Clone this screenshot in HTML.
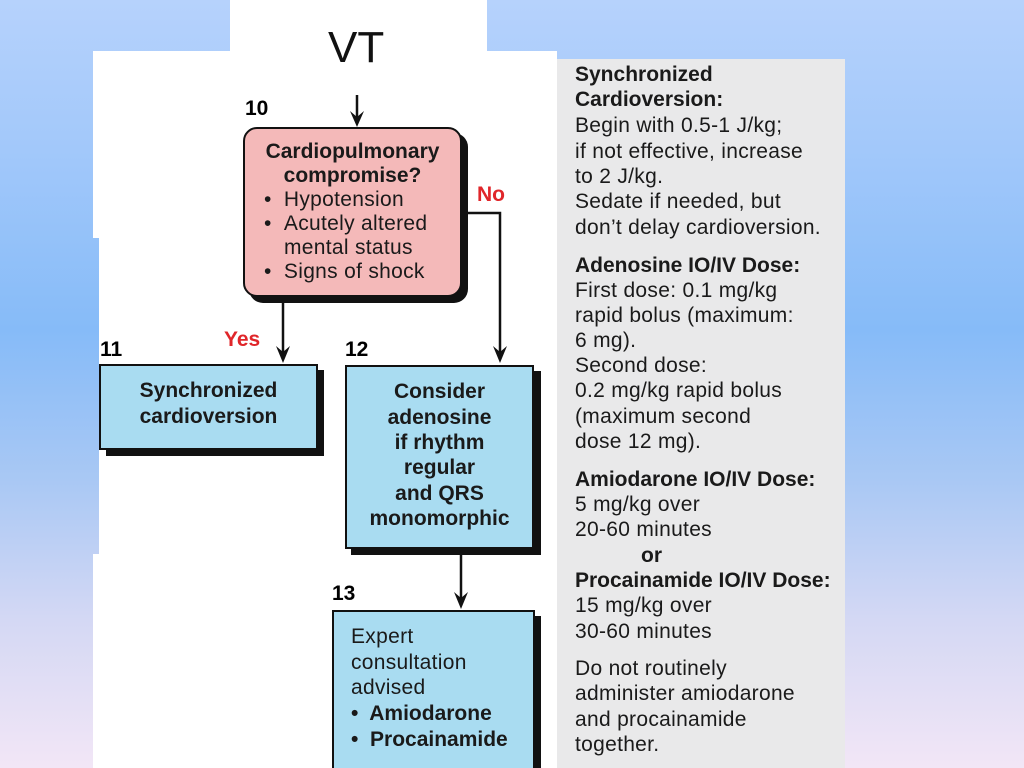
<!DOCTYPE html>
<html style="overflow:hidden;width:1024px;height:768px"><head><meta charset="utf-8"><style>
*{margin:0;padding:0;box-sizing:border-box}
html,body{overflow:hidden}
body{width:1024px;height:768px;position:relative;font-family:"Liberation Sans",Arial,sans-serif;
background:linear-gradient(to bottom,#b6d2fc 0px,#a2c8fa 150px,#86bbf8 330px,#a9c8f4 480px,#d4d8f4 620px,#f2e6f6 768px);}
.a{position:absolute;white-space:nowrap;line-height:22px}
.r{font-size:21px;color:#1a1a1a;letter-spacing:0.3px}
.b{font-weight:bold;letter-spacing:0}
.box{position:absolute;border:2.5px solid #111;}
.sh{position:absolute;background:#111}
.c{text-align:center}
.n{font-size:21px;font-weight:bold}
</style></head><body>
<div style="position:absolute;left:230px;top:0;width:257px;height:60px;background:#fff"></div>
<div style="position:absolute;left:93px;top:51px;width:464px;height:187px;background:#fff"></div>
<div style="position:absolute;left:99px;top:238px;width:458px;height:316px;background:#fff"></div>
<div style="position:absolute;left:93px;top:554px;width:464px;height:214px;background:#fff"></div>
<div style="position:absolute;left:557px;top:59px;width:288px;height:709px;background:#e9e9ea"></div>
<div class="a" style="left:328px;top:24px;font-size:44px;line-height:48px;color:#111">VT</div>

<svg style="position:absolute;left:0;top:0" width="1024" height="768">
<g stroke="#111" stroke-width="2.5" fill="none">
<line x1="357" y1="95" x2="357" y2="120"/>
<line x1="283" y1="298" x2="283" y2="355"/>
<polyline points="462,213 500,213 500,355"/>
<line x1="461" y1="550" x2="461" y2="600"/>
</g>
<g fill="#111">
<polygon points="350,111 357,127 364,111 357,117"/>
<polygon points="276,346 283,363 290,346 283,352"/>
<polygon points="493,346 500,363 507,346 500,352"/>
<polygon points="454,592 461,609 468,592 461,598"/>
</g>
</svg>

<div class="a n" style="left:245px;top:98px">10</div>
<div style="position:absolute;left:249px;top:133px;width:219px;height:170px;background:#111;border-radius:14px"></div>
<div class="box" style="left:243px;top:127px;width:219px;height:170px;background:#f4b9b9;border-radius:14px"></div>
<div class="a r b c" style="left:243px;top:141px;width:219px">Cardiopulmonary</div>
<div class="a r b c" style="left:243px;top:165px;width:219px">compromise?</div>
<div class="a r" style="left:264px;top:189px">•&nbsp;&nbsp;Hypotension</div>
<div class="a r" style="left:264px;top:213px">•&nbsp;&nbsp;Acutely altered</div>
<div class="a r" style="left:284px;top:237px">mental status</div>
<div class="a r" style="left:264px;top:261px">•&nbsp;&nbsp;Signs of shock</div>
<div class="a n" style="left:477px;top:184px;color:#e0262a">No</div>
<div class="a n" style="left:224px;top:329px;color:#e0262a">Yes</div>

<div class="a n" style="left:100px;top:339px">11</div>
<div class="sh" style="left:106px;top:370px;width:218px;height:86px"></div>
<div class="box" style="left:99px;top:364px;width:219px;height:86px;background:#a9dcf1"></div>
<div class="a r b c" style="left:99px;top:380px;width:219px">Synchronized</div>
<div class="a r b c" style="left:99px;top:406px;width:219px">cardioversion</div>

<div class="a n" style="left:345px;top:339px">12</div>
<div class="sh" style="left:351px;top:371px;width:190px;height:184px"></div>
<div class="box" style="left:345px;top:365px;width:189px;height:184px;background:#a9dcf1"></div>
<div class="a r b c" style="left:345px;top:381px;width:189px">Consider</div>
<div class="a r b c" style="left:345px;top:407px;width:189px">adenosine</div>
<div class="a r b c" style="left:345px;top:432px;width:189px">if rhythm</div>
<div class="a r b c" style="left:345px;top:457px;width:189px">regular</div>
<div class="a r b c" style="left:345px;top:483px;width:189px">and QRS</div>
<div class="a r b c" style="left:345px;top:508px;width:189px">monomorphic</div>

<div class="a n" style="left:332px;top:583px">13</div>
<div class="sh" style="left:338px;top:616px;width:203px;height:152px"></div>
<div class="box" style="left:332px;top:610px;width:203px;height:162px;background:#a9dcf1"></div>
<div class="a r" style="left:351px;top:626px">Expert</div>
<div class="a r" style="left:351px;top:652px">consultation</div>
<div class="a r" style="left:351px;top:677px">advised</div>
<div class="a r b" style="left:351px;top:703px">•&nbsp; Amiodarone</div>
<div class="a r b" style="left:351px;top:729px">•&nbsp; Procainamide</div>

<div class="a r b" style="left:575px;top:64px">Synchronized</div>
<div class="a r b" style="left:575px;top:89px">Cardioversion:</div>
<div class="a r" style="left:575px;top:115px">Begin with 0.5-1 J/kg;</div>
<div class="a r" style="left:575px;top:141px">if not effective, increase</div>
<div class="a r" style="left:575px;top:166px">to 2 J/kg.</div>
<div class="a r" style="left:575px;top:191px">Sedate if needed, but</div>
<div class="a r" style="left:575px;top:217px">don’t delay cardioversion.</div>
<div class="a r b" style="left:575px;top:255px">Adenosine IO/IV Dose:</div>
<div class="a r" style="left:575px;top:280px">First dose: 0.1 mg/kg</div>
<div class="a r" style="left:575px;top:305px">rapid bolus (maximum:</div>
<div class="a r" style="left:575px;top:330px">6 mg).</div>
<div class="a r" style="left:575px;top:355px">Second dose:</div>
<div class="a r" style="left:575px;top:380px">0.2 mg/kg rapid bolus</div>
<div class="a r" style="left:575px;top:406px">(maximum second</div>
<div class="a r" style="left:575px;top:431px">dose 12 mg).</div>
<div class="a r b" style="left:575px;top:469px">Amiodarone IO/IV Dose:</div>
<div class="a r" style="left:575px;top:494px">5 mg/kg over</div>
<div class="a r" style="left:575px;top:519px">20-60 minutes</div>
<div class="a r b" style="left:641px;top:545px">or</div>
<div class="a r b" style="left:575px;top:570px">Procainamide IO/IV Dose:</div>
<div class="a r" style="left:575px;top:595px">15 mg/kg over</div>
<div class="a r" style="left:575px;top:621px">30-60 minutes</div>
<div class="a r" style="left:575px;top:658px">Do not routinely</div>
<div class="a r" style="left:575px;top:683px">administer amiodarone</div>
<div class="a r" style="left:575px;top:709px">and procainamide</div>
<div class="a r" style="left:575px;top:734px">together.</div>
</body></html>
